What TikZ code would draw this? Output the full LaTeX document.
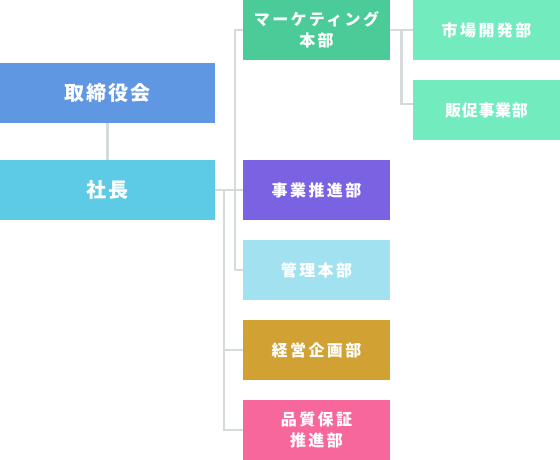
\documentclass[tikz,border=0pt]{standalone}
\usepackage{fontspec}
\usepackage{tikz}
\usetikzlibrary{positioning, calc}
\newfontfamily\jpbig{Noto Sans CJK JP}[LetterSpace=10]
\newfontfamily\jpmid{Noto Sans CJK JP}[LetterSpace=15]
\newfontfamily\jpsmall{Noto Sans CJK JP}[LetterSpace=4]
\definecolor{BoardBlue}{HTML}{5F97E3}
\definecolor{PresCyan}{HTML}{5DCBE5}
\definecolor{MktGreen}{HTML}{4ACB98}
\definecolor{MintGreen}{HTML}{72EBBF}
\definecolor{BizPurple}{HTML}{7B62E3}
\definecolor{AdmSky}{HTML}{A2E1F0}
\definecolor{PlanGold}{HTML}{D1A134}
\definecolor{QaPink}{HTML}{F8679C}
\definecolor{LineGray}{HTML}{D5DBDA}

\begin{document}
\begin{tikzpicture}[x=1pt, y=-1pt,
    unit/.style={fill=#1, text=white, inner sep=0pt, align=center,
      minimum width=147pt, minimum height=60pt,
      font=\jpmid\bfseries\fontsize{16}{21}\selectfont},
    top/.style={unit=#1, minimum width=215pt,
      font=\jpbig\bfseries\fontsize{20}{24}\selectfont},
    link/.style={LineGray, line width=2.6pt, line join=miter}]
    \useasboundingbox (0,0) rectangle (560,460);

    % Board and president
    \node[top=BoardBlue] (board) at (107.5,93) {取締役会};
    \node[top=PresCyan] (pres) at (107.5,190) {社長};

    % Divisions
    \node[unit=MktGreen] (mkt) at (316.5,30) {マーケティング\\本部};
    \node[unit=BizPurple] (biz) at (316.5,190) {事業推進部};
    \node[unit=AdmSky] (adm) at (316.5,270) {管理本部};
    \node[unit=PlanGold] (plan) at (316.5,350) {経営企画部};
    \node[unit=QaPink] (qa) at (316.5,430) {品質保証\\推進部};

    % Marketing sub units
    \node[unit=MintGreen] (mdev) at (486.5,30) {市場開発部};
    \node[unit=MintGreen, font=\jpsmall\bfseries\fontsize{16}{21}\selectfont]
      (sales) at (486.5,110) {販促事業部};

    % Bus lines
    \coordinate (busA) at (235,0);
    \coordinate (busB) at (224,0);
    \coordinate (busC) at (401.5,0);
    \coordinate (salesin) at ($(sales.west)+(0,-6)$);

    % Connectors
    \draw[link] (board.south) -- (pres.north);
    \draw[link] (pres.east) -- (biz.west);
    \draw[link] (mkt.west) -| (busA |- adm.west) -- (adm.west);
    \draw[link] (busB |- pres.east) -- (busB |- qa.west) -- (qa.west);
    \draw[link] (busB |- plan.west) -- (plan.west);
    \draw[link] (mkt.east) -- (mdev.west);
    \draw[link] (busC |- mkt.east) |- (salesin);
\end{tikzpicture}
\end{document}
